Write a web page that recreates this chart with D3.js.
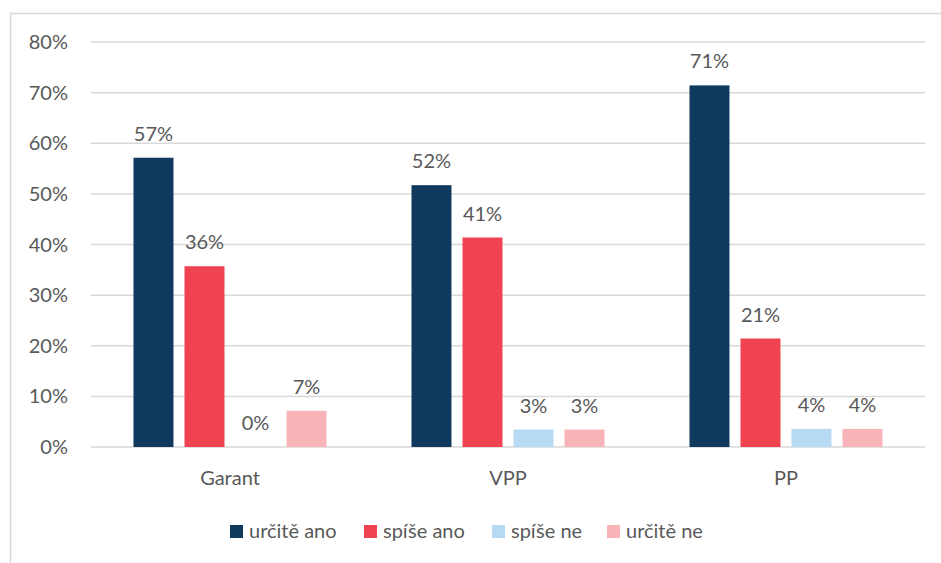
<!DOCTYPE html>
<head>
<meta charset="utf-8">
<title>chart</title>
<script src="https://cdn.jsdelivr.net/npm/d3@7"></script>
<style>
  body { margin: 0; background: #fff; }
  text { font-family: Lato, "Open Sans", sans-serif; fill: #595959; }
</style>
</head>
<body>
<svg id="chart" width="941" height="563"></svg>
<script>
var categories = ['Garant', 'VPP', 'PP']
var series = ['určitě ano', 'spíše ano', 'spíše ne', 'určitě ne']
var colors = ['#0f3a5d', '#f04352', '#b6daf4', '#f9b4ba']
// share of answers per category, in order of the series
var values = {
  'Garant': [57.14, 35.71, 0, 7.14],
  'VPP': [51.72, 41.38, 3.45, 3.45],
  'PP': [71.43, 21.43, 3.57, 3.57]
}
var yTicks = [0, 10, 20, 30, 40, 50, 60, 70, 80]

var svg = d3.select('#chart')

// outer frame (only top and left visible in the crop)
svg.append('path')
  .attr('d', 'M10.5,563 V13.5 H941')
  .attr('fill', 'none')
  .attr('stroke', '#d9d9d9')
  .attr('stroke-width', 1.5)

var x0 = d3.scaleBand().domain(categories).range([91, 925])
var x1 = d3.scaleBand().domain(series).range([0, x0.bandwidth()])
  .paddingInner(0.216).paddingOuter(0.833)
var y = d3.scaleLinear().domain([0, 80]).range([447, 42])

// gridlines
svg.append('g').selectAll('line').data(yTicks).enter().append('line')
  .attr('x1', 91).attr('x2', 925)
  .attr('y1', function (d) { return y(d) }).attr('y2', function (d) { return y(d) })
  .attr('stroke', '#d9d9d9').attr('stroke-width', 1.5)

svg.append('g').selectAll('text').data(yTicks).enter().append('text')
  .attr('x', 68).attr('y', function (d) { return y(d) + 7 })
  .attr('text-anchor', 'end').attr('font-size', 20)
  .text(function (d) { return d + '%' })

var groups = svg.append('g').selectAll('g').data(categories).enter().append('g')
  .attr('transform', function (c) { return 'translate(' + x0(c) + ',0)' })

groups.selectAll('rect').data(function (c) {
    return values[c].map(function (v, i) { return { s: series[i], v: v, i: i } })
  }).enter().append('rect')
  .attr('x', function (d) { return x1(d.s) })
  .attr('width', x1.bandwidth())
  .attr('y', function (d) { return y(d.v) })
  .attr('height', function (d) { return y(0) - y(d.v) })
  .attr('fill', function (d) { return colors[d.i] })

groups.selectAll('text.lbl').data(function (c) {
    return values[c].map(function (v, i) { return { s: series[i], v: v } })
  }).enter().append('text')
  .attr('class', 'lbl')
  .attr('x', function (d) { return x1(d.s) + x1.bandwidth() / 2 })
  .attr('y', function (d) { return y(d.v) - 17 })
  .attr('text-anchor', 'middle').attr('font-size', 20)
  .text(function (d) { return Math.round(d.v) + '%' })

svg.append('g').selectAll('text').data(categories).enter().append('text')
  .attr('x', function (c) { return x0(c) + x0.bandwidth() / 2 })
  .attr('y', 485)
  .attr('text-anchor', 'middle').attr('font-size', 20)
  .text(function (c) { return c })

// legend
var legendX = [230, 364, 492, 607]
var legend = svg.append('g').selectAll('g').data(series).enter().append('g')
  .attr('transform', function (d, i) { return 'translate(' + legendX[i] + ',525)' })
legend.append('rect').attr('width', 13).attr('height', 13)
  .attr('fill', function (d, i) { return colors[i] })
legend.append('text').attr('x', 19).attr('y', 13).attr('font-size', 20)
  .text(function (d) { return d })
</script>
</body>
